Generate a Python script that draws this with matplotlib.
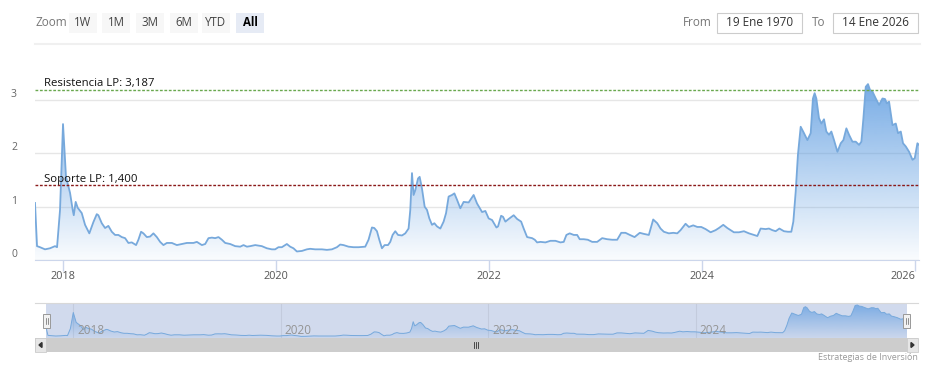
import numpy as np
import matplotlib
matplotlib.use('Agg')
import matplotlib.pyplot as plt
from matplotlib.patches import Rectangle, PathPatch, Polygon
from matplotlib.colors import to_rgb

plt.rcParams['font.family'] = ['Open Sans', 'DejaVu Sans']

# Values (decimal year, price)
dates = [2017.737, 2017.756, 2017.784, 2017.831, 2017.878, 2017.925, 2017.944, 2017.972,
         2018.000, 2018.028, 2018.066, 2018.091, 2018.101, 2018.119, 2018.138, 2018.176,
         2018.207, 2018.247, 2018.285, 2018.317, 2018.332, 2018.364, 2018.395, 2018.426,
         2018.458, 2018.489, 2018.520, 2018.552, 2018.583, 2018.614, 2018.646, 2018.686,
         2018.708, 2018.733, 2018.755, 2018.787, 2018.818, 2018.849, 2018.881, 2018.912,
         2018.943, 2018.975, 2019.022, 2019.069, 2019.116, 2019.163, 2019.225, 2019.257,
         2019.304, 2019.335, 2019.366, 2019.398, 2019.429, 2019.460, 2019.492, 2019.523,
         2019.570, 2019.617, 2019.664, 2019.695, 2019.727, 2019.758, 2019.805, 2019.867,
         2019.914, 2019.961, 2019.992, 2020.023, 2020.055, 2020.102, 2020.133, 2020.164,
         2020.196, 2020.243, 2020.290, 2020.321, 2020.368, 2020.431, 2020.478, 2020.525,
         2020.572, 2020.603, 2020.634, 2020.681, 2020.728, 2020.775, 2020.838, 2020.869,
         2020.901, 2020.923, 2020.948, 2020.970, 2020.995, 2021.020, 2021.052, 2021.073,
         2021.095, 2021.120, 2021.146, 2021.183, 2021.214, 2021.245, 2021.261, 2021.277,
         2021.292, 2021.308, 2021.334, 2021.349, 2021.371, 2021.396, 2021.418, 2021.440,
         2021.465, 2021.487, 2021.512, 2021.543, 2021.574, 2021.597, 2021.621, 2021.653,
         2021.675, 2021.700, 2021.731, 2021.762, 2021.809, 2021.856, 2021.888, 2021.935,
         2021.966, 2021.997, 2022.029, 2022.070, 2022.085, 2022.114, 2022.132, 2022.154,
         2022.185, 2022.232, 2022.264, 2022.302, 2022.326, 2022.358, 2022.405, 2022.430,
         2022.452, 2022.483, 2022.530, 2022.577, 2022.624, 2022.671, 2022.702, 2022.727,
         2022.758, 2022.796, 2022.828, 2022.852, 2022.890, 2022.928, 2022.969, 2023.016,
         2023.063, 2023.110, 2023.157, 2023.204, 2023.242, 2023.282, 2023.323, 2023.367,
         2023.416, 2023.454, 2023.501, 2023.542, 2023.580, 2023.611, 2023.642, 2023.689,
         2023.731, 2023.768, 2023.799, 2023.846, 2023.877, 2023.918, 2023.956, 2023.993,
         2024.034, 2024.081, 2024.128, 2024.159, 2024.200, 2024.238, 2024.269, 2024.300,
         2024.347, 2024.394, 2024.441, 2024.488, 2024.520, 2024.551, 2024.598, 2024.629,
         2024.661, 2024.692, 2024.727, 2024.770, 2024.807, 2024.839, 2024.858, 2024.880,
         2024.901, 2024.927, 2024.958, 2024.990, 2025.021, 2025.042, 2025.058, 2025.074,
         2025.099, 2025.121, 2025.146, 2025.168, 2025.193, 2025.215, 2025.240, 2025.272,
         2025.303, 2025.328, 2025.356, 2025.381, 2025.413, 2025.444, 2025.475, 2025.497,
         2025.516, 2025.538, 2025.559, 2025.578, 2025.601, 2025.632, 2025.663, 2025.695,
         2025.719, 2025.735, 2025.757, 2025.789, 2025.820, 2025.841, 2025.867, 2025.888,
         2025.914, 2025.945, 2025.977, 2025.998, 2026.023, 2026.038]
prices = [1.07, 0.26, 0.24, 0.20, 0.22, 0.26, 0.24, 0.94,
          2.55, 1.56, 1.26, 0.94, 0.84, 1.09, 0.98, 0.88,
          0.66, 0.50, 0.71, 0.86, 0.84, 0.69, 0.60, 0.64,
          0.53, 0.47, 0.47, 0.43, 0.41, 0.32, 0.33, 0.28,
          0.38, 0.53, 0.50, 0.43, 0.44, 0.50, 0.43, 0.34,
          0.28, 0.32, 0.32, 0.28, 0.30, 0.32, 0.32, 0.34,
          0.28, 0.30, 0.41, 0.42, 0.41, 0.43, 0.38, 0.32,
          0.30, 0.26, 0.25, 0.28, 0.25, 0.26, 0.28, 0.26,
          0.22, 0.20, 0.20, 0.24, 0.24, 0.30, 0.25, 0.22,
          0.16, 0.17, 0.20, 0.21, 0.20, 0.20, 0.19, 0.20,
          0.24, 0.29, 0.28, 0.25, 0.24, 0.24, 0.25, 0.38,
          0.61, 0.60, 0.54, 0.38, 0.22, 0.28, 0.28, 0.34,
          0.47, 0.54, 0.47, 0.46, 0.50, 0.59, 0.94, 1.63,
          1.22, 1.31, 1.53, 1.56, 1.34, 1.00, 0.94, 0.78,
          0.66, 0.69, 0.63, 0.59, 0.72, 0.88, 1.19, 1.22,
          1.25, 1.13, 0.97, 1.09, 1.08, 1.22, 1.06, 0.90,
          0.92, 0.78, 0.75, 0.61, 0.63, 0.83, 0.81, 0.72,
          0.77, 0.84, 0.77, 0.72, 0.59, 0.43, 0.41, 0.38,
          0.33, 0.34, 0.33, 0.36, 0.36, 0.33, 0.34, 0.47,
          0.50, 0.47, 0.47, 0.39, 0.39, 0.38, 0.34, 0.34,
          0.41, 0.39, 0.38, 0.38, 0.51, 0.51, 0.47, 0.43,
          0.51, 0.49, 0.47, 0.76, 0.69, 0.59, 0.53, 0.50,
          0.51, 0.50, 0.56, 0.68, 0.62, 0.65, 0.62, 0.62,
          0.58, 0.52, 0.56, 0.60, 0.66, 0.60, 0.56, 0.52,
          0.52, 0.54, 0.50, 0.47, 0.45, 0.59, 0.58, 0.59,
          0.56, 0.54, 0.59, 0.54, 0.53, 0.53, 0.72, 1.28,
          1.97, 2.50, 2.38, 2.25, 2.38, 3.03, 3.13, 3.03,
          2.66, 2.56, 2.64, 2.41, 2.35, 2.41, 2.25, 2.03,
          2.19, 2.25, 2.47, 2.35, 2.22, 2.22, 2.16, 2.22,
          2.66, 3.25, 3.30, 3.19, 3.16, 3.03, 2.91, 3.03,
          3.02, 2.94, 2.97, 2.53, 2.56, 2.38, 2.41, 2.19,
          2.13, 2.03, 1.88, 1.91, 2.19, 2.16]

year_ticks = [2018, 2020, 2022, 2024, 2026]
y_ticks = [0, 1, 2, 3]
resistance = 3.187
support = 1.400
resistance_label = 'Resistencia LP: 3,187'
support_label = 'Soporte LP: 1,400'
range_buttons = ['1W', '1M', '3M', '6M', 'YTD', 'All']
date_from = '19 Ene 1970'
date_to = '14 Ene 2026'
credits = 'Estrategias de Inversión'

W, H = 934, 370
LINE = '#77a9dc'
FILL = '#5a9ae0'


def fig_rect(x0, y0, x1, y1):
    """Pixel box (top-left origin) to figure fraction."""
    return [x0 / W, 1 - y1 / H, (x1 - x0) / W, (y1 - y0) / H]


def gradient_area(ax, x, y, ymax, top_alpha, bottom_alpha):
    """Area under the line filled with a vertical blue gradient."""
    poly = ax.fill_between(x, y, 0, facecolor='none', edgecolor='none')
    patch = PathPatch(poly.get_paths()[0], transform=ax.transData,
                      facecolor='none', edgecolor='none')
    ax.add_patch(patch)
    n = 256
    rgba = np.zeros((n, 1, 4))
    rgba[:, 0, :3] = to_rgb(FILL)
    rgba[:, 0, 3] = np.linspace(bottom_alpha, top_alpha, n)
    img = ax.imshow(rgba, extent=[x[0], x[-1], 0, ymax], origin='lower',
                    aspect='auto', interpolation='bilinear', zorder=1)
    img.set_clip_path(patch)


fig = plt.figure(figsize=(W / 100, H / 100), dpi=100)

# Main chart
ax = fig.add_axes(fig_rect(35, 65, 919, 260))
gradient_area(ax, dates, prices, 3.4, 0.85, 0.03)
ax.plot(dates, prices, color=LINE, lw=1.3, zorder=3)
ax.axhline(resistance, color='#6aa84f', lw=1, ls=(0, (2, 1.2)), zorder=4)
ax.axhline(support, color='#8b1a1a', lw=1, ls=(0, (2, 1.2)), zorder=4)
ax.annotate(resistance_label, (dates[0], resistance), xytext=(6.5, 0.5),
            textcoords='offset points', fontsize=8.2, color='#111111', va='bottom')
ax.annotate(support_label, (dates[0], support), xytext=(6.5, 0.5),
            textcoords='offset points', fontsize=8.2, color='#111111', va='bottom')
ax.set_xlim(dates[0], dates[-1])
ax.set_ylim(0, (260 - 65) / 53.3)
ax.set_yticks(y_ticks)
ax.set_yticklabels([str(v) for v in y_ticks])
ax.set_xticks(year_ticks)
ax.set_xticklabels([str(v) for v in year_ticks])
ax.grid(axis='y', color='#e6e6e6', lw=1)
ax.set_axisbelow(True)
for side in ['top', 'right', 'left']:
    ax.spines[side].set_visible(False)
ax.spines['bottom'].set_color('#ccd6eb')
ax.tick_params(axis='y', length=0, pad=13, labelsize=7.5, labelcolor='#666666')
ax.tick_params(axis='x', length=8, width=1, color='#ccd6eb', pad=0,
               labelsize=7.8, labelcolor='#555555')
for lab in ax.get_yticklabels():
    lab.set_va('bottom')
ax.get_xticklabels()[-1].set_ha('right')
ax.set_facecolor('none')

# Navigator
nav = fig.add_axes(fig_rect(46, 303, 907, 338))
nav.set_facecolor('#d1daed')
gradient_area(nav, dates, prices, 3.5, 0.75, 0.05)
nav.plot(dates, prices, color=LINE, lw=0.7, zorder=3)
for yr in year_ticks[:-1]:
    nav.axvline(yr, color='#c3cbdd', lw=0.8, zorder=0.5)
    nav.annotate(str(yr), (yr, 0), xytext=(3, 0.5), textcoords='offset points',
                 fontsize=8.5, color='#949494', va='bottom', zorder=4)
nav.set_xlim(dates[0], dates[-1])
nav.set_ylim(0, 3.5)
nav.set_xticks([])
nav.set_yticks([])
for s in nav.spines.values():
    s.set_visible(False)

# Overlay for the widgets around the chart, in pixels
ui = fig.add_axes([0, 0, 1, 1], zorder=5)
ui.set_xlim(0, W)
ui.set_ylim(H, 0)
ui.axis('off')

ui.text(35, 23, 'Zoom', fontsize=8.5, color='#777777', va='center')
btn_x = [69, 102, 136, 170, 202, 236]
for bx, name in zip(btn_x, range_buttons):
    sel = name == 'All'
    ui.add_patch(Rectangle((bx, 13), 28, 20, facecolor='#e6ebf5' if sel else '#f7f7f7',
                           edgecolor='none'))
    ui.text(bx + 14, 23, name, fontsize=8.3, ha='center', va='center',
            color='#000000' if sel else '#444444', fontweight='bold' if sel else 'normal')

ui.text(697, 23, 'From', fontsize=8.5, color='#777777', ha='center', va='center')
ui.add_patch(Rectangle((717, 13), 85, 20, facecolor='white', edgecolor='#cccccc', lw=0.8))
ui.text(759.5, 23, date_from, fontsize=8.5, color='#333333', ha='center', va='center')
ui.text(819, 23, 'To', fontsize=8.5, color='#777777', ha='center', va='center')
ui.add_patch(Rectangle((833, 13), 85, 20, facecolor='white', edgecolor='#cccccc', lw=0.8))
ui.text(875.5, 23, date_to, fontsize=8.5, color='#333333', ha='center', va='center')
ui.plot([35, 920], [44, 44], color='#f0f0f0', lw=1.5)

# navigator frame, handles and scrollbar
ui.plot([35, 918], [303, 303], color='#d8d8d8', lw=0.8)
ui.add_patch(Rectangle((35, 338), 883, 14, facecolor='#cdcdcd', edgecolor='none'))
ui.add_patch(Rectangle((35, 338), 11, 14, facecolor='#e6e6e6', edgecolor='#cccccc', lw=0.6))
ui.add_patch(Rectangle((907, 338), 11, 14, facecolor='#e6e6e6', edgecolor='#cccccc', lw=0.6))
ui.add_patch(Polygon([[39, 345], [42, 342.5], [42, 347.5]], closed=True, color='#333333'))
ui.add_patch(Polygon([[914, 345], [911, 342.5], [911, 347.5]], closed=True, color='#333333'))
for dx in (-2, 0, 2):
    ui.plot([476 + dx, 476 + dx], [342, 348], color='#333333', lw=0.6)
for hx in (43, 903):
    ui.add_patch(Rectangle((hx, 314), 7, 14, facecolor='#f2f2f2', edgecolor='#999999', lw=0.7))
    for dx in (2.5, 4.5):
        ui.plot([hx + dx, hx + dx], [318, 324], color='#666666', lw=0.5)

ui.text(918, 357, credits, fontsize=6.5, color='#999999', ha='right', va='center')

fig.savefig('out.png', dpi=100)
